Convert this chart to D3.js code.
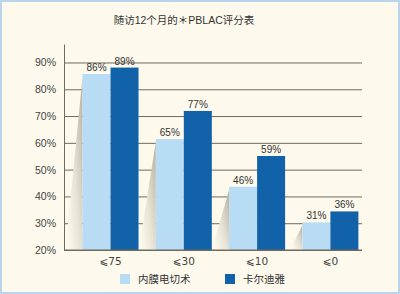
<!DOCTYPE html>
<html>
<head>
<meta charset="utf-8">
<script src="https://cdn.jsdelivr.net/npm/d3@7"></script>
<style>
  body { margin: 0; background: #fdf9ec; }
  svg { display: block; font-family: "Liberation Sans", "Noto Sans CJK SC", sans-serif; }
</style>
</head>
<body>
<div id="chart"></div>
<script>
const title = '随访12个月的＊PBLAC评分表';
const categories = ['⩽75', '⩽30', '⩽10', '⩽0'];
const seriesNames = ['内膜电切术', '卡尔迪雅'];
// bar heights as drawn in the picture
const endoValues = [85.7, 61.4, 43.6, 30.3];
const cardValues = [88.1, 71.9, 55.1, 34.4];
// value labels printed above the bars
const endoLabels = ['86%', '65%', '46%', '31%'];
const cardLabels = ['89%', '77%', '59%', '36%'];
const yTicks = [20, 30, 40, 50, 60, 70, 80, 90];

const width = 400;
const height = 294;
const colors = ['#b7dcf3', '#1262aa'];

const svg = d3.select('#chart').append('svg')
  .attr('width', width)
  .attr('height', height);

const defs = svg.append('defs');
const grad = defs.append('linearGradient')
  .attr('id', 'shadow')
  .attr('x1', 1).attr('y1', 0)
  .attr('x2', 0).attr('y2', 0.8);
grad.append('stop').attr('offset', 0).attr('stop-color', '#b5b0a2');
grad.append('stop').attr('offset', 0.55).attr('stop-color', '#e6e2d5');
grad.append('stop').attr('offset', 1).attr('stop-color', '#fdf9ec');

// frame
svg.append('rect')
  .attr('x', 1).attr('y', 1)
  .attr('width', width - 2).attr('height', height - 2)
  .attr('fill', '#fdf9ec')
  .attr('stroke', '#b9d4eb')
  .attr('stroke-width', 2);

svg.append('text')
  .attr('x', 184).attr('y', 24)
  .attr('text-anchor', 'middle')
  .attr('font-size', 10.5)
  .attr('fill', '#333')
  .text(title);

const left = 64;
const right = 362;
const bottom = 250;

const y = d3.scaleLinear()
  .domain([20, 96.9])
  .range([bottom, 44]);

const x = d3.scaleBand()
  .domain(categories)
  .range([left, right])
  .paddingInner(0.236)
  .paddingOuter(0.151)
  .align(0.837);

const xSub = d3.scaleBand()
  .domain([0, 1])
  .range([0, x.bandwidth()]);

// grid + y axis
const yAxis = d3.axisLeft(y)
  .tickValues(yTicks)
  .tickSize(-(right - left))
  .tickSizeOuter(0)
  .tickPadding(8)
  .tickFormat(d => d + '%');

const gy = svg.append('g')
  .attr('transform', `translate(${left},0)`)
  .call(yAxis);
gy.selectAll('line').attr('stroke', '#6f6b5e');
gy.select('.domain').attr('stroke', '#6f6b5e');
gy.selectAll('text')
  .attr('font-size', 10.5)
  .attr('fill', '#444')
  .attr('font-family', '"Liberation Sans", sans-serif');

const groups = svg.append('g')
  .selectAll('g')
  .data(categories)
  .enter()
  .append('g')
  .attr('transform', d => `translate(${x(d)},0)`);

// soft shadows left of the light bars
groups.append('path')
  .attr('fill', 'url(#shadow)')
  .attr('d', (d, i) => {
    const top = y(endoValues[i]) + 3;
    const w = Math.min(17, (bottom - top) * 0.5);
    return `M0,${top} L${-w},${bottom - 1} L0,${bottom - 1} Z`;
  });

groups.append('rect')
  .attr('x', xSub(0))
  .attr('y', (d, i) => y(endoValues[i]))
  .attr('width', xSub.bandwidth())
  .attr('height', (d, i) => bottom - y(endoValues[i]))
  .attr('fill', colors[0]);

groups.append('rect')
  .attr('x', xSub(1))
  .attr('y', (d, i) => y(cardValues[i]))
  .attr('width', xSub.bandwidth())
  .attr('height', (d, i) => bottom - y(cardValues[i]))
  .attr('fill', colors[1]);

groups.append('text')
  .attr('x', xSub(0) + xSub.bandwidth() / 2)
  .attr('y', (d, i) => y(endoValues[i]) - 3)
  .attr('text-anchor', 'middle')
  .attr('font-size', 10)
  .attr('fill', '#333')
  .text((d, i) => endoLabels[i]);

groups.append('text')
  .attr('x', xSub(1) + xSub.bandwidth() / 2)
  .attr('y', (d, i) => y(cardValues[i]) - 3)
  .attr('text-anchor', 'middle')
  .attr('font-size', 10)
  .attr('fill', '#333')
  .text((d, i) => cardLabels[i]);

// baseline
svg.append('line')
  .attr('x1', left).attr('x2', right)
  .attr('y1', bottom).attr('y2', bottom)
  .attr('stroke', '#6f6b5e');

// category labels
const xAxis = d3.axisBottom(x).tickSize(0).tickPadding(8);
const gx = svg.append('g')
  .attr('transform', `translate(0,${bottom})`)
  .call(xAxis);
gx.select('.domain').remove();
gx.selectAll('text')
  .attr('font-size', 10.5)
  .attr('fill', '#444')
  .attr('font-family', '"DejaVu Sans", "Liberation Sans", sans-serif');

// legend
const legendX = [120, 225];
const legend = svg.append('g')
  .selectAll('g')
  .data(seriesNames)
  .enter()
  .append('g')
  .attr('transform', (d, i) => `translate(${legendX[i]},274)`);

legend.append('rect')
  .attr('width', 10)
  .attr('height', 10)
  .attr('fill', (d, i) => colors[i]);

legend.append('text')
  .attr('x', 18)
  .attr('y', 9)
  .attr('font-size', 10.5)
  .attr('fill', '#333')
  .text(d => d);
</script>
</body>
</html>
